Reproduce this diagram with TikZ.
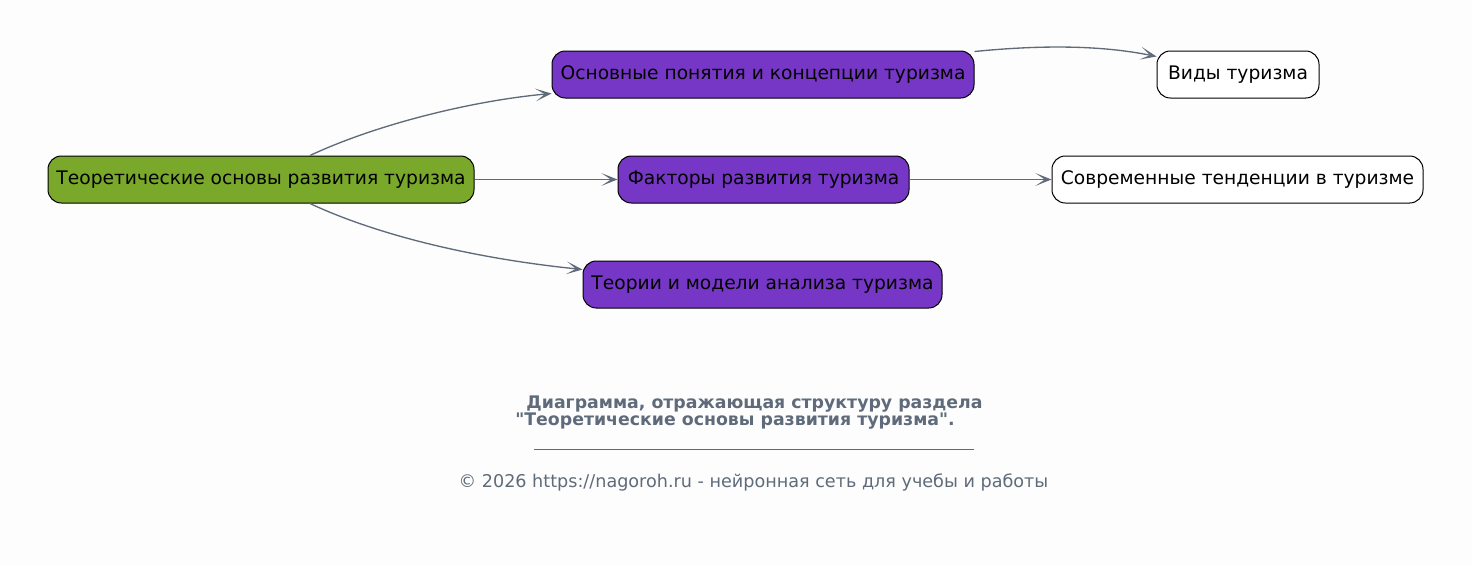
\documentclass[tikz,border=0pt]{standalone}
\usepackage{fontspec}
\setmainfont{DejaVu Sans}[Ligatures=TeXOff]
\usetikzlibrary{arrows.meta, positioning}
\definecolor{cbg}{HTML}{FDFDFD}
\definecolor{cgreen}{HTML}{7AA82A}
\definecolor{cpurple}{HTML}{7737C6}
\definecolor{cslate}{HTML}{5F6B7A}
\tikzset{
  every picture/.style={font=\fontsize{14}{17}\selectfont, line width=0.75pt},
  topic/.style={draw=black, fill=#1, rounded corners=10pt, minimum height=35.25pt, inner sep=0pt, text=black},
  topic/.default=white,
  edge/.style={-{Stealth[length=12pt, width=9.5pt, inset=7pt]}, draw=cslate, line width=1pt},
  caption/.style={font=\fontsize{13}{15}\selectfont\bfseries, text=cslate},
  footer/.style={font=\fontsize{13.2}{15}\selectfont, text=cslate},
}

\begin{document}
\begin{tikzpicture}[x=0.75pt, y=-0.75pt]
  \fill[cbg] (0,0) rectangle (1472,565);
  \useasboundingbox (0,0) rectangle (1472,565);
  % main topic and its subtopics
  \node[topic=cgreen, minimum width=319.5pt] (root) at (261,179.5) {Теоретические основы развития туризма};
  \node[topic=cpurple, minimum width=316.5pt] (concepts) at (763,74.5) {Основные понятия и концепции туризма};
  \node[topic=cpurple, minimum width=218.25pt] (factors) at (763.5,179.5) {Факторы развития туризма};
  \node[topic=cpurple, minimum width=269.25pt] (theories) at (762.5,284.5) {Теории и модели анализа туризма};
  % leaves
  \node[topic, minimum width=121.5pt] (kinds) at (1238,74.5) {Виды туризма};
  \node[topic, minimum width=278.25pt] (trends) at (1237.5,179.5) {Современные тенденции в туризме};
  % connectors
  \draw[edge] ([xshift=36.75pt]root.north) .. controls (375,125) and (470,101) .. ([yshift=3.75pt]concepts.south west);
  \draw[edge] (root) -- (factors);
  \draw[edge] ([xshift=36.75pt]root.south) .. controls (375,234) and (470,258) .. ([yshift=-6.75pt]theories.north west);
  \draw[edge] ([yshift=-0.75pt]concepts.north east) .. controls (1040,45) and (1100,45) .. ([yshift=-4.5pt]kinds.north west);
  \draw[edge] (factors) -- (trends);
  % caption
  \node[caption] (cap1) at (754.5,404) {Диаграмма, отражающая структуру раздела};
  \node[caption] (cap2) at (735,421) {"Теоретические основы развития туризма".};
  \coordinate (ruleL) at (534,449);
  \coordinate (ruleR) at (974,449);
  \draw[cslate, line width=0.6pt] (ruleL) -- (ruleR);
  \node[footer] (copy) at (753.5,482) {© 2026 https://nagoroh.ru - нейронная сеть для учебы и работы};
\end{tikzpicture}
\end{document}
